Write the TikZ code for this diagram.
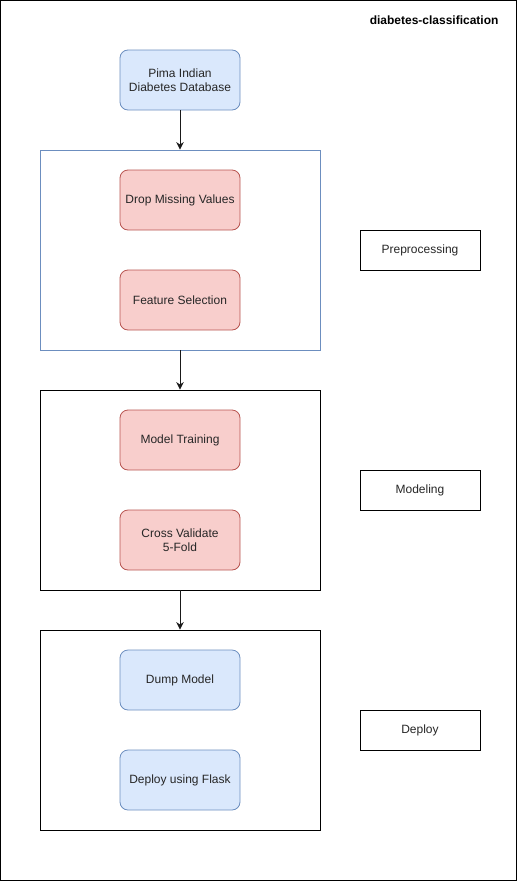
\documentclass[tikz,border=0pt]{standalone}
\usepackage{fontspec}
\setmainfont{Liberation Sans}
\usepackage{tikz}
\usetikzlibrary{arrows.meta}
\definecolor{bluefill}{HTML}{DAE8FC}
\definecolor{bluedraw}{HTML}{6C8EBF}
\definecolor{redfill}{HTML}{F8CECC}
\definecolor{reddraw}{HTML}{B85450}
\tikzset{
	stepbox/.style={draw, rounded corners=8pt, minimum width=120pt, minimum height=60pt, align=center, line width=0.8pt, text=black!85},
	bluestep/.style={stepbox, fill=bluefill, draw=bluedraw},
	redstep/.style={stepbox, fill=redfill, draw=reddraw},
	group/.style={draw, minimum width=280pt, minimum height=200pt, line width=0.8pt},
	tag/.style={draw, minimum width=120pt, minimum height=40pt, line width=0.8pt, text=black!85},
	flow/.style={-{Stealth[length=7.5pt,width=7.5pt]}, line width=0.9pt, black!90}
}
\begin{document}
\begin{tikzpicture}[x=1pt, y=-1pt, font=\fontsize{12}{14}\selectfont]
	\draw[line width=1pt] (0.5,0.5) rectangle (516.5,880.5);
	\useasboundingbox (0,0) rectangle (518,881);
	\node[anchor=east, font=\fontsize{12}{14}\selectfont\bfseries] (title) at (502,20) {diabetes-classification};

	\node[group, draw=bluedraw] (prep) at (180,250) {};
	\node[group] (model) at (180,490) {};
	\node[group] (deploy) at (180,730) {};

	\node[bluestep] (pima) at (180,80) {Pima Indian\\Diabetes Database};
	\node[redstep] (drop) at (180,200) {Drop Missing Values};
	\node[redstep] (feat) at (180,300) {Feature Selection};
	\node[redstep] (train) at (180,440) {Model Training};
	\node[redstep] (cv) at (180,540) {Cross Validate\\5-Fold};
	\node[bluestep] (dump) at (180,680) {Dump Model};
	\node[bluestep] (flask) at (180,780) {Deploy using Flask};

	\node[tag] (preptag) at (420,250) {Preprocessing};
	\node[tag] (modeltag) at (420,490) {Modeling};
	\node[tag] (deploytag) at (420,730) {Deploy};

	\draw[flow] (pima) -- (prep);
	\draw[flow] (prep) -- (model);
	\draw[flow] (model) -- (deploy);
\end{tikzpicture}
\end{document}
